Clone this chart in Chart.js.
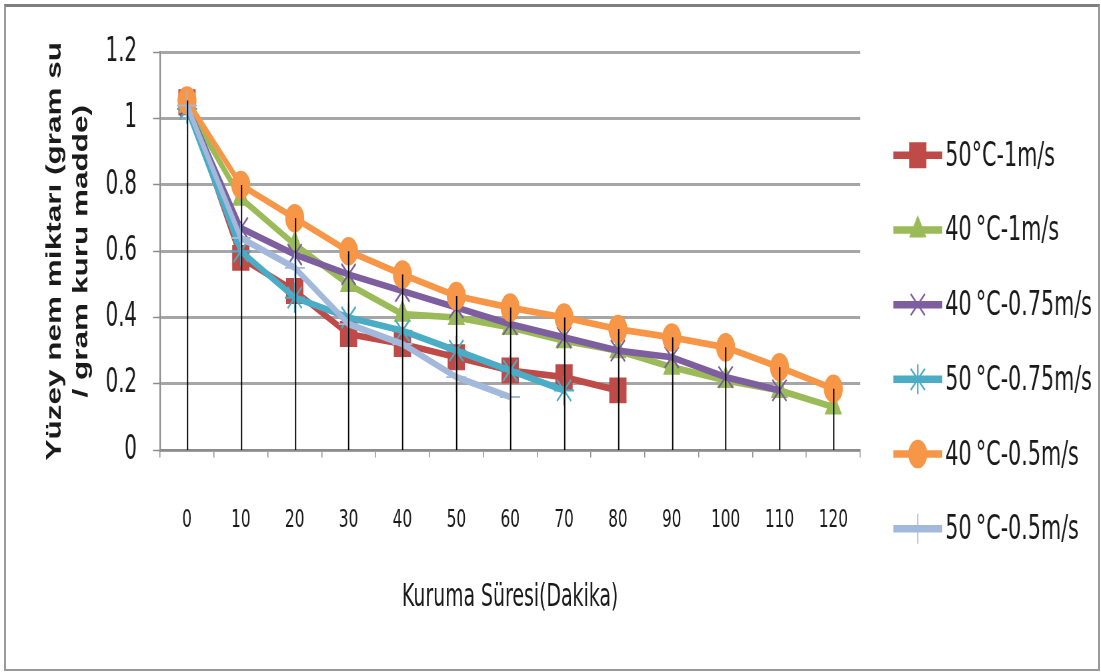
<!DOCTYPE html>
<html>
<head>
<meta charset="utf-8">
<script src="https://cdn.jsdelivr.net/npm/chart.js@4"></script>
<style>
    body { margin: 0; background: #fff; width: 1101px; height: 672px; overflow: hidden; position: relative; }
    .frame { position: absolute; left: 4px; top: 4px; width: 1092px; height: 662px; border: 2px solid #9a9a9a; border-top-width: 3px; border-top-color: #7f7f7f; }
    .stretch { position: absolute; left: 0; top: 0; width: 1101px; height: 448px; transform: scaleY(1.5); transform-origin: 0 0; }
</style>
</head>
<body>
<div class="frame"></div>
<div class="stretch"><canvas id="dryChart"></canvas></div>
<script>
const minutes = ['0', '10', '20', '30', '40', '50', '60', '70', '80', '90', '100', '110', '120'];
const yTicks = [0, 0.2, 0.4, 0.6, 0.8, 1, 1.2];

const s50_1 = [1.05, 0.58, 0.48, 0.35, 0.32, 0.28, 0.24, 0.22, 0.18];
const s40_1 = [1.04, 0.76, 0.62, 0.50, 0.41, 0.40, 0.37, 0.33, 0.30, 0.25, 0.21, 0.18, 0.13];
const s40_075 = [1.04, 0.67, 0.59, 0.53, 0.48, 0.43, 0.38, 0.34, 0.30, 0.28, 0.22, 0.18];
const s50_075 = [1.03, 0.60, 0.46, 0.40, 0.36, 0.30, 0.24, 0.18];
const s40_05 = [1.055, 0.80, 0.70, 0.60, 0.53, 0.465, 0.43, 0.40, 0.365, 0.34, 0.31, 0.25, 0.185];
const s50_05 = [1.04, 0.64, 0.55, 0.38, 0.32, 0.22, 0.16];

const series = [
    { label: '50°C-1m/s', data: s50_1, color: '#BE4B48', style: 'rect', r: 11.5, bw: 1 },
    { label: '40\u2009°C-1m/s', data: s40_1, color: '#9BBB59', style: 'triangle', r: 9, bw: 1 },
    { label: '40\u2009°C-0.75m/s', data: s40_075, color: '#7D5FA0', style: 'crossRot', r: 10, bw: 1.5 },
    { label: '50\u2009°C-0.75m/s', data: s50_075, color: '#4BACC6', style: 'star', r: 10, bw: 1.5 },
    { label: '40\u2009°C-0.5m/s', data: s40_05, color: '#F79646', style: 'circle', r: 9, bw: 1 },
    { label: '50\u2009°C-0.5m/s', data: s50_05, color: '#A3B9DC', style: 'cross', r: 10, bw: 1.2 }
];

const narrow = '"Liberation Sans Narrow", "DejaVu Sans Condensed", "Liberation Sans", sans-serif';

// Excel style drop lines: from the highest point of each category down to the axis
const dropLines = {
    id: 'dropLines',
    afterDatasetsDraw(chart) {
        const ctx = chart.ctx;
        const x = chart.scales.x, y = chart.scales.y;
        ctx.save();
        ctx.strokeStyle = '#000';
        ctx.lineWidth = 1.3;
        minutes.forEach((m, i) => {
            const vals = series.map(s => s.data[i]).filter(v => v !== undefined);
            if (!vals.length) return;
            const px = Math.round(x.getPixelForValue(i)) + 0.5;
            ctx.beginPath();
            ctx.moveTo(px, y.getPixelForValue(Math.max(...vals)));
            ctx.lineTo(px, y.getPixelForValue(0));
            ctx.stroke();
        });
        ctx.restore();
    }
};

// legend drawn by hand to keep the wide Excel spacing
const sideLegend = {
    id: 'sideLegend',
    afterDraw(chart) {
        const ctx = chart.ctx;
        ctx.save();
        series.forEach((s, i) => {
            const cy = 103.5 + i * 49.8;
            ctx.strokeStyle = s.color;
            ctx.lineWidth = 5;
            ctx.beginPath();
            ctx.moveTo(893, cy);
            ctx.lineTo(942, cy);
            ctx.stroke();
            ctx.fillStyle = s.color;
            ctx.lineWidth = s.bw;
            Chart.helpers.drawPoint(ctx, { pointStyle: s.style, radius: s.r, rotation: 0, borderWidth: s.bw }, 917.5, cy);
            ctx.fillStyle = '#1a1a1a';
            ctx.font = '23px ' + narrow;
            ctx.textBaseline = 'middle';
            ctx.fillText(s.label, 945, cy + 1, 152);
        });
        ctx.restore();
    }
};

new Chart(document.getElementById('dryChart'), {
    type: 'line',
    data: {
        labels: minutes,
        datasets: series.map((s, i) => ({
            label: s.label,
            data: s.data,
            borderColor: s.color,
            backgroundColor: s.color,
            pointBorderColor: s.color,
            pointBackgroundColor: s.color,
            borderWidth: 4.5,
            pointStyle: s.style,
            pointRadius: s.r,
            pointHoverRadius: s.r,
            pointBorderWidth: s.bw,
            tension: 0,
            order: 6 - i
        }))
    },
    plugins: [dropLines, sideLegend],
    options: {
        responsive: true,
        maintainAspectRatio: false,
        animation: false,
        devicePixelRatio: 1.5,
        layout: { padding: { left: 0, top: 35, right: 241, bottom: 0 } },
        plugins: { legend: { display: false }, tooltip: { enabled: false } },
        scales: {
            x: {
                type: 'category',
                offset: true,
                afterFit: scale => { scale.height = 148; },
                border: { color: '#8c8c8c', width: 1.5 },
                grid: { display: true, drawOnChartArea: false, drawTicks: true, tickLength: 5, color: '#8c8c8c', offset: true },
                ticks: { color: '#1a1a1a', padding: 32, maxRotation: 0, font: { family: narrow, size: 17 } },
                title: {
                    display: true,
                    text: 'Kuruma Süresi(Dakika)',
                    color: '#1a1a1a',
                    padding: { top: 10, bottom: 37 },
                    font: { family: narrow, size: 21 }
                }
            },
            y: {
                min: 0,
                max: 1.2,
                afterFit: scale => { scale.width = 160; },
                afterBuildTicks: scale => { scale.ticks = yTicks.map(v => ({ value: v })); },
                border: { color: '#8c8c8c', width: 1.5 },
                grid: { color: '#a6a6a6', lineWidth: 2, tickLength: 7, tickColor: '#8c8c8c', tickWidth: 1 },
                ticks: {
                    color: '#1a1a1a',
                    padding: 16,
                    font: { family: narrow, size: 22 },
                    callback: v => String(Math.round(v * 10) / 10)
                },
                title: {
                    display: true,
                    text: ['Yüzey nem miktarı (gram su', '/ gram kuru madde)'],
                    color: '#1a1a1a',
                    padding: { top: 42 },
                    font: { family: '"Liberation Sans", Arial, sans-serif', size: 21, weight: 'bold', lineHeight: 1.25 }
                }
            }
        }
    }
});
</script>
</body>
</html>
